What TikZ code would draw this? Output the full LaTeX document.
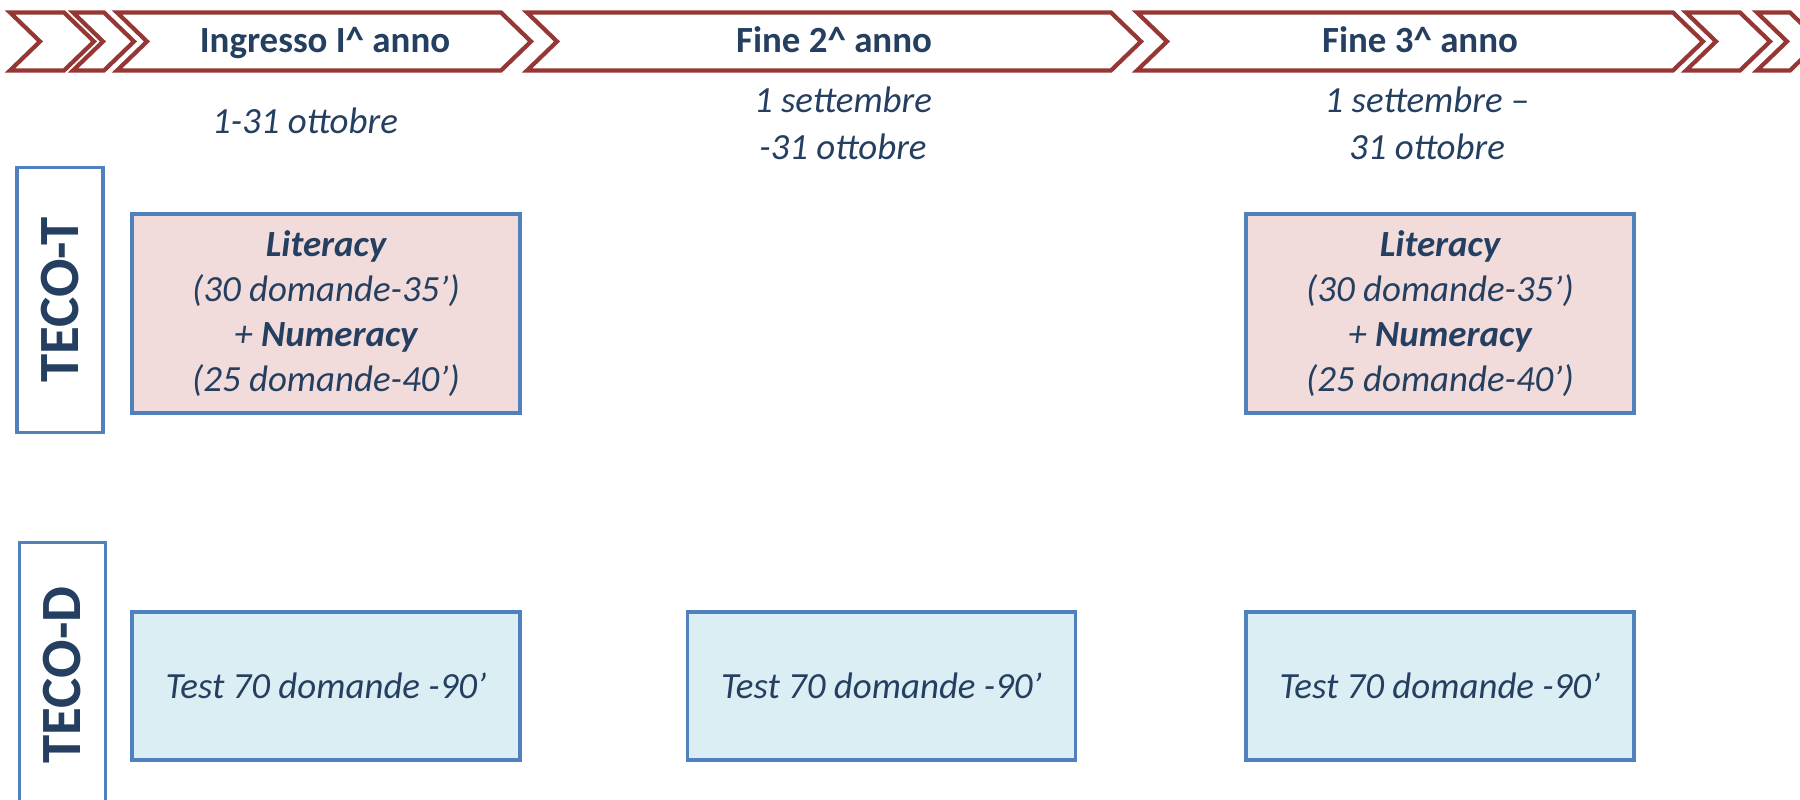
\documentclass[tikz,border=0pt]{standalone}
\usepackage{fontspec}
\setmainfont{Carlito}
\usetikzlibrary{calc}

\definecolor{chevred}{RGB}{149,55,53}
\definecolor{boxblue}{RGB}{79,129,189}
\definecolor{litpink}{RGB}{242,220,219}
\definecolor{testcyan}{RGB}{219,238,244}
\definecolor{navytext}{RGB}{36,63,96}

\tikzset{
  chevron/.style={draw=chevred, line width=1.2pt, fill=white},
  yearlabel/.style={font=\fontsize{10.5}{12.6}\selectfont\bfseries, text=navytext, anchor=base},
  window/.style={font=\fontsize{10.5}{13.4}\selectfont\itshape, text=navytext, align=center, anchor=base},
  tecolabel/.style={draw=boxblue, line width=1.1pt, rotate=90, inner sep=0pt,
    minimum width=2.65cm, minimum height=0.86cm,
    font=\fontsize{16.2}{19}\selectfont\bfseries, text=navytext},
  tecotbox/.style={draw=boxblue, line width=1.1pt, fill=litpink, inner sep=0pt,
    minimum width=3.88cm, minimum height=1.99cm, align=center,
    font=\fontsize{10.5}{12.8}\selectfont\itshape, text=navytext},
  tecodbox/.style={tecotbox, fill=testcyan, minimum height=1.48cm}
}

\begin{document}
\begin{tikzpicture}
      \useasboundingbox (0, 0) rectangle (18, 8);
      \fill[white] (0, 0) rectangle (18, 8);
      \clip (0, 0) rectangle (18, 8);

      \coordinate (colA) at (3.26, 0);
      \coordinate (colB) at (8.815, 0);
      \coordinate (colC) at (14.40, 0);
      \coordinate (rowT) at (0, 4.865);
      \coordinate (rowD) at (0, 1.14);

      % timeline
      \foreach \l/\r in {0.10/0.64, 0.73/1.04, 1.17/5.01, 5.27/11.11,
                          11.37/16.73, 16.86/17.40, 17.57/17.90}
        \draw[chevron] (\l, 7.875) -- (\r, 7.875) -- (\r+0.3, 7.585)
          -- (\r, 7.295) -- (\l, 7.295) -- (\l+0.3, 7.585) -- cycle;

      \node[yearlabel] (ingresso) at (3.25, 7.47) {Ingresso I\textasciicircum{} anno};
      \node[yearlabel] (fineDue) at (8.34, 7.47) {Fine 2\textasciicircum{} anno};
      \node[yearlabel] (fineTre) at (14.20, 7.47) {Fine 3\textasciicircum{} anno};

      \node[window] (winA) at (3.05, 6.66) {1-31 ottobre};
      \node[window] (winB) at (8.43, 6.40) {1 settembre\\-31 ottobre};
      \node[window] (winC) at (14.27, 6.40) {1 settembre –\\31 ottobre};

      \node[tecolabel] (tecoT) at (0.60, 5.00) {TECO-T};
      \node[tecolabel] (tecoD) at (0.625, 1.25) {TECO-D};

      \node[tecotbox] (litA) at (colA |- rowT)
        {\textbf{Literacy}\\(30 domande-35’)\\+ \textbf{Numeracy}\\(25 domande-40’)};
      \node[tecotbox] (litC) at (colC |- rowT)
        {\textbf{Literacy}\\(30 domande-35’)\\+ \textbf{Numeracy}\\(25 domande-40’)};

      \node[tecodbox] (testA) at (colA |- rowD) {Test 70 domande -90’};
      \node[tecodbox] (testB) at (colB |- rowD) {Test 70 domande -90’};
      \node[tecodbox] (testC) at (colC |- rowD) {Test 70 domande -90’};
    \end{tikzpicture}
\end{document}
